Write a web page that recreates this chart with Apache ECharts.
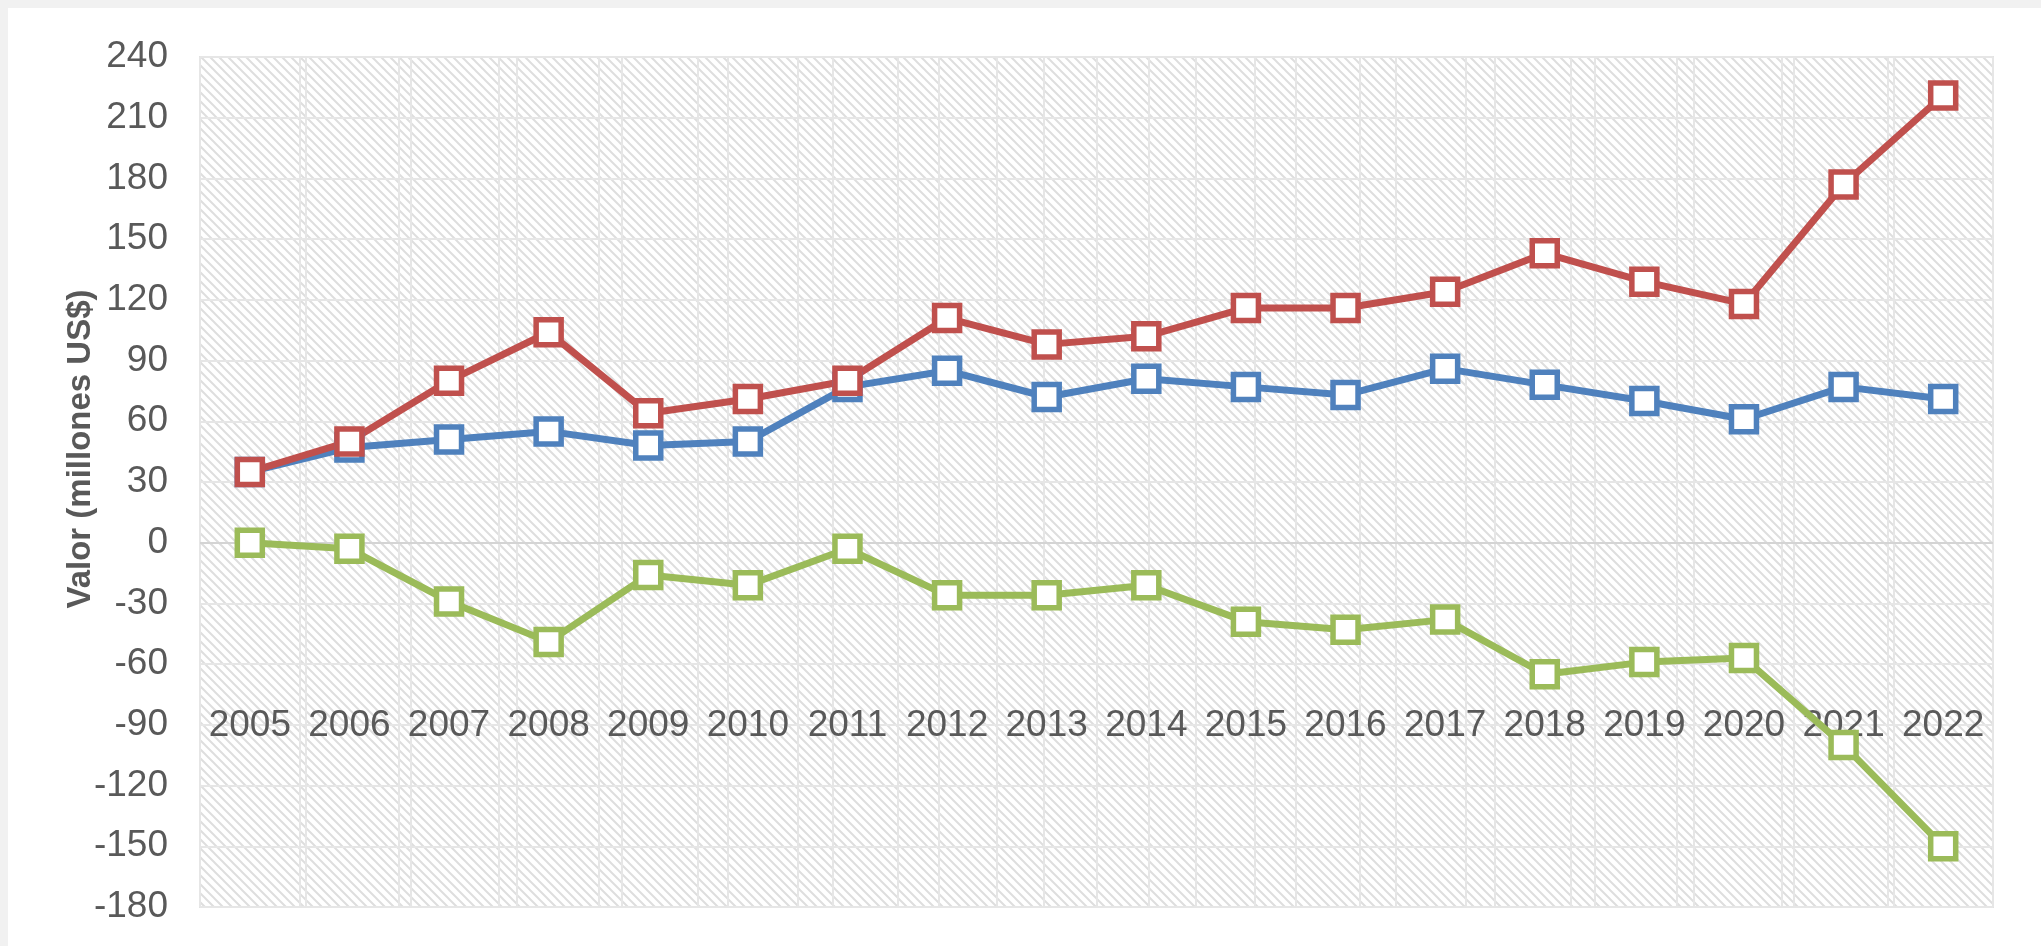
<!DOCTYPE html>
<html>
<head>
<meta charset="utf-8">
<script src="https://cdn.jsdelivr.net/npm/echarts@6/dist/echarts.min.js"></script>
<style>
html,body{margin:0;padding:0;background:#f1f1f1;width:2041px;height:946px;overflow:hidden;}
#chart{position:absolute;left:8px;top:8px;width:2033px;height:938px;background:#ffffff;}
</style>
</head>
<body>
<div id="chart"></div>
<script>
const categories = ['2005','2006','2007','2008','2009','2010','2011','2012','2013','2014','2015','2016','2017','2018','2019','2020','2021','2022'];
const blueValues = [35, 47, 51, 55, 48, 50, 77, 85, 72, 81, 77, 73, 86, 78, 70, 61, 77, 71];
const redValues = [35, 50, 80, 104, 64, 71, 80, 111, 98, 102, 116, 116, 124, 143, 129, 118, 177, 221];
const greenValues = [0, -3, -29, -49, -16, -21, -3, -26, -26, -21, -39, -43, -38, -65, -59, -57, -100, -150];
const yMin = -180, yMax = 240, yStep = 30;
const yTitle = 'Valor (millones US$)';

// hatch pattern
const tile = document.createElement('canvas');
const s = 9;
tile.width = s; tile.height = s;
const c = tile.getContext('2d');
c.fillStyle = '#ffffff';
c.fillRect(0, 0, s, s);
c.strokeStyle = '#dedede';
c.lineWidth = 2;
c.beginPath();
c.moveTo(-2, -2); c.lineTo(s + 2, s + 2);
c.moveTo(-2 - s, -2); c.lineTo(2, s + 2);
c.moveTo(s - 2, -2); c.lineTo(2 * s + 2, s + 2);
c.stroke();

const chart = echarts.init(document.getElementById('chart'), null, {renderer: 'canvas'});
const font = "'Liberation Sans', Arial, sans-serif";
function lineSeries(name, data, color) {
  return {
    name: name, type: 'line', data: data, xAxisIndex: 0,
    symbol: 'rect', symbolSize: 25,
    lineStyle: {color: color, width: 7},
    itemStyle: {color: '#ffffff', borderColor: color, borderWidth: 5.5},
    z: 5, animation: false
  };
}
const s1 = lineSeries('Blue', blueValues, '#4f81bd');
const s2 = lineSeries('Red', redValues, '#c0504d');
const s3 = lineSeries('Green', greenValues, '#9bbb59');
s1.markLine = {silent: true, symbol: 'none', label: {show: false}, lineStyle: {color: '#d4d4d4', width: 2, type: 'solid'}, data: [{yAxis: 0}], z: 1, animation: false};

chart.setOption({
  animation: false,
  grid: {left: 192, top: 49, right: 48, bottom: 39, show: true, backgroundColor: {image: tile, repeat: 'repeat'}, borderColor: '#e2e2e2', borderWidth: 2},
  xAxis: [{
    type: 'category', data: categories, boundaryGap: true, position: 'bottom', offset: -208,
    axisLine: {show: false}, axisTick: {show: false},
    axisLabel: {color: '#595959', fontSize: 37, fontFamily: font, margin: 8, interval: 0},
    splitLine: {show: true, interval: 0, lineStyle: {color: '#e6e6e6', width: 2}}
  }, {
    type: 'category', data: categories, boundaryGap: false, show: true, position: 'top',
    axisLine: {show: false}, axisTick: {show: false}, axisLabel: {show: false},
    splitLine: {show: true, interval: 0, lineStyle: {color: '#e6e6e6', width: 2}}
  }],
  yAxis: {
    type: 'value', min: yMin, max: yMax, interval: yStep,
    axisLine: {show: false}, axisTick: {show: false},
    axisLabel: {color: '#595959', fontSize: 37, fontFamily: font, margin: 32},
    splitLine: {show: true, lineStyle: {color: '#e6e6e6', width: 2}}
  },
  graphic: [{
    type: 'text', x: 73, y: 441, rotation: Math.PI / 2,
    style: {text: yTitle, fill: '#595959', font: "bold 33px 'Liberation Sans', Arial, sans-serif", align: 'center', verticalAlign: 'middle'}
  }],
  series: [s1, s2, s3]
});
</script>
</body>
</html>
